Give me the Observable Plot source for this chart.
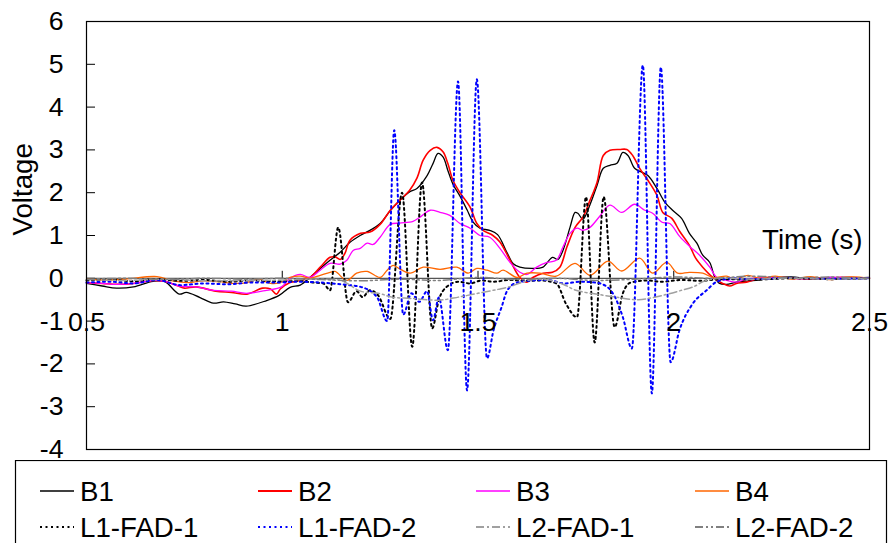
<!DOCTYPE html>
<html><head><meta charset="utf-8">
<script src="https://cdn.jsdelivr.net/npm/d3@7"></script>
<script src="https://cdn.jsdelivr.net/npm/@observablehq/plot@0.6"></script>
<style>
html,body{margin:0;padding:0;background:#fff;}
#wrap{position:relative;width:890px;height:543px;overflow:hidden;font-family:"Liberation Sans",Arial,sans-serif;}
#chart{position:absolute;left:0;top:0;}
#legend{position:absolute;left:0;top:460px;}
</style></head>
<body><div id="wrap"><div id="chart"></div><svg id="legend" width="890" height="83"></svg></div>
<script>
const xTicks = [0.5, 1, 1.5, 2, 2.5];
const yTicks = [-4, -3, -2, -1, 0, 1, 2, 3, 4, 5, 6];
const seriesNames = ["B1","B2","B3","B4","L1-FAD-1","L1-FAD-2","L2-FAD-1","L2-FAD-2"];

const B1 = [[0.5,-0.12],[0.54,-0.18],[0.577,-0.23],[0.62,-0.2],[0.67,-0.07],[0.7,-0.08],[0.737,-0.37],[0.755,-0.33],[0.79,-0.45],[0.824,-0.58],[0.85,-0.55],[0.88,-0.6],[0.908,-0.65],[0.96,-0.52],[0.992,-0.4],[1.02,-0.21],[1.046,-0.16],[1.071,0.02],[1.097,0.23],[1.122,0.42],[1.148,0.61],[1.173,0.84],[1.199,1.0],[1.224,1.12],[1.25,1.28],[1.276,1.58],[1.3,1.82],[1.325,2.02],[1.344,2.1],[1.37,2.4],[1.385,2.68],[1.398,2.92],[1.411,2.83],[1.423,2.52],[1.436,2.2],[1.454,1.92],[1.472,1.6],[1.487,1.32],[1.505,1.17],[1.53,1.12],[1.55,1.02],[1.574,0.6],[1.59,0.34],[1.607,0.26],[1.64,0.23],[1.666,0.26],[1.69,0.49],[1.704,0.44],[1.717,0.65],[1.735,1.19],[1.748,1.54],[1.755,1.52],[1.768,1.38],[1.786,1.72],[1.804,2.17],[1.82,2.57],[1.837,2.64],[1.855,2.69],[1.87,2.94],[1.883,2.87],[1.9,2.57],[1.918,2.48],[1.934,2.4],[1.957,2.1],[1.977,1.78],[1.997,1.59],[2.02,1.4],[2.04,1.05],[2.059,0.82],[2.074,0.54],[2.092,0.37],[2.105,0.02],[2.117,-0.12],[2.135,-0.14],[2.16,-0.09],[2.21,-0.05],[2.25,0.0],[2.3,0.03],[2.35,-0.01],[2.4,0.02],[2.45,0.0],[2.5,0.02]];
const B2 = [[0.5,-0.1],[0.54,-0.12],[0.58,-0.14],[0.62,-0.12],[0.67,-0.05],[0.7,-0.07],[0.735,-0.18],[0.75,-0.23],[0.78,-0.2],[0.83,-0.3],[0.87,-0.33],[0.91,-0.37],[0.95,-0.23],[0.97,-0.25],[0.985,-0.37],[0.995,-0.25],[1.02,-0.1],[1.046,-0.05],[1.071,0.02],[1.097,0.26],[1.122,0.49],[1.135,0.5],[1.148,0.44],[1.16,0.58],[1.173,0.89],[1.2,1.05],[1.224,1.08],[1.25,1.26],[1.276,1.59],[1.3,1.82],[1.325,2.05],[1.344,2.34],[1.36,2.76],[1.378,2.99],[1.395,3.06],[1.411,2.95],[1.423,2.68],[1.436,2.29],[1.454,2.0],[1.48,1.66],[1.497,1.28],[1.513,1.12],[1.538,1.0],[1.556,0.85],[1.582,0.42],[1.607,0.02],[1.625,-0.09],[1.64,0.02],[1.666,0.12],[1.69,0.14],[1.709,0.26],[1.727,0.73],[1.748,1.19],[1.768,1.43],[1.786,1.82],[1.804,2.24],[1.82,2.87],[1.837,2.99],[1.862,3.01],[1.88,3.01],[1.895,2.87],[1.913,2.57],[1.934,2.29],[1.957,1.94],[1.972,1.54],[1.995,1.4],[2.015,1.1],[2.04,0.77],[2.056,0.47],[2.074,0.26],[2.1,0.02],[2.125,-0.12],[2.143,-0.18],[2.16,-0.12],[2.186,-0.09],[2.22,0.0],[2.28,0.02],[2.35,-0.02],[2.42,0.02],[2.5,0.0]];
const B3 = [[0.5,-0.1],[0.54,-0.12],[0.58,-0.14],[0.62,-0.12],[0.67,-0.05],[0.7,-0.07],[0.737,-0.18],[0.78,-0.2],[0.824,-0.28],[0.87,-0.3],[0.908,-0.35],[0.96,-0.28],[0.998,-0.2],[1.02,0.0],[1.046,0.09],[1.071,0.02],[1.097,0.19],[1.122,0.35],[1.148,0.33],[1.165,0.42],[1.181,0.65],[1.199,0.7],[1.217,0.82],[1.232,0.79],[1.25,0.96],[1.276,1.26],[1.3,1.29],[1.334,1.33],[1.352,1.43],[1.378,1.59],[1.403,1.54],[1.428,1.47],[1.454,1.28],[1.48,1.17],[1.505,1.0],[1.53,0.96],[1.556,0.7],[1.582,0.37],[1.607,0.14],[1.625,0.09],[1.65,0.26],[1.676,0.37],[1.7,0.42],[1.717,0.73],[1.735,1.05],[1.753,1.17],[1.768,1.12],[1.786,1.19],[1.811,1.45],[1.837,1.71],[1.867,1.54],[1.9,1.73],[1.926,1.59],[1.946,1.52],[1.97,1.31],[1.99,1.28],[2.015,0.98],[2.04,0.75],[2.066,0.54],[2.092,0.26],[2.11,0.02],[2.135,-0.05],[2.16,-0.09],[2.186,-0.02],[2.25,0.02],[2.32,-0.01],[2.4,0.02],[2.5,0.01]];
const B4 = [[0.5,-0.02],[0.55,-0.04],[0.6,-0.02],[0.68,0.04],[0.72,-0.06],[0.76,-0.1],[0.8,-0.06],[0.84,-0.08],[0.88,-0.12],[0.91,-0.1],[0.94,-0.02],[0.97,-0.12],[0.995,-0.1],[1.02,0.02],[1.046,0.05],[1.071,0.0],[1.097,0.07],[1.122,0.14],[1.135,0.16],[1.165,-0.05],[1.19,0.12],[1.217,0.16],[1.25,0.02],[1.268,0.19],[1.283,0.3],[1.3,0.22],[1.327,0.12],[1.36,0.26],[1.403,0.21],[1.446,0.26],[1.475,0.12],[1.497,0.23],[1.523,0.19],[1.548,0.12],[1.564,0.19],[1.6,0.02],[1.625,0.12],[1.658,0.12],[1.7,0.05],[1.748,0.35],[1.786,0.07],[1.832,0.4],[1.867,0.17],[1.913,0.47],[1.946,0.12],[1.982,0.37],[2.01,0.12],[2.04,0.14],[2.074,0.12],[2.1,0.02],[2.135,0.05],[2.155,-0.02],[2.19,0.07],[2.22,0.0],[2.26,0.05],[2.3,-0.02],[2.35,0.04],[2.4,-0.03],[2.45,0.03],[2.5,0.0]];
const L1FAD1 = [[0.5,-0.05],[0.56,-0.03],[0.62,-0.07],[0.68,-0.02],[0.74,-0.06],[0.8,-0.04],[0.86,-0.08],[0.92,-0.05],[0.98,-0.07],[1.04,-0.06],[1.08,-0.1],[1.105,-0.12],[1.122,-0.28],[1.143,1.19],[1.168,-0.56],[1.19,-0.3],[1.205,-0.44],[1.224,-0.28],[1.245,-0.4],[1.276,-0.95],[1.306,2.0],[1.332,-1.6],[1.357,2.24],[1.383,-1.17],[1.4,-0.5],[1.42,-0.2],[1.45,-0.08],[1.48,-0.12],[1.51,-0.05],[1.54,-0.08],[1.58,-0.04],[1.62,-0.06],[1.66,-0.05],[1.7,-0.12],[1.725,-0.6],[1.753,-0.91],[1.776,1.9],[1.798,-1.5],[1.821,1.9],[1.849,-1.14],[1.87,-0.35],[1.89,-0.1],[1.93,-0.05],[1.97,-0.08],[2.02,-0.04],[2.07,-0.06],[2.12,-0.02],[2.2,-0.03],[2.3,0.0],[2.4,-0.02],[2.5,0.0]];
const L1FAD2 = [[0.5,-0.1],[0.56,-0.08],[0.62,-0.12],[0.68,-0.04],[0.74,-0.16],[0.8,-0.12],[0.86,-0.14],[0.92,-0.1],[0.98,-0.1],[1.04,-0.08],[1.1,-0.1],[1.16,-0.15],[1.2,-0.2],[1.242,-0.44],[1.268,-1.0],[1.286,3.46],[1.309,-0.85],[1.33,-0.35],[1.35,-0.55],[1.37,-0.3],[1.385,-0.98],[1.4,-0.45],[1.423,-1.68],[1.449,4.6],[1.472,-2.62],[1.497,4.65],[1.523,-1.87],[1.54,-1.2],[1.56,-0.68],[1.575,-0.28],[1.6,-0.1],[1.64,-0.05],[1.68,-0.04],[1.72,-0.12],[1.76,-0.08],[1.8,-0.1],[1.83,-0.2],[1.85,-0.44],[1.87,-0.91],[1.893,-1.64],[1.921,4.98],[1.944,-2.69],[1.967,4.93],[1.992,-1.96],[2.015,-1.2],[2.048,-0.6],[2.084,-0.28],[2.11,-0.08],[2.15,0.0],[2.2,-0.02],[2.3,0.01],[2.4,-0.01],[2.5,0.0]];
const L2FAD1 = [[0.5,-0.03],[0.6,-0.05],[0.7,-0.02],[0.8,-0.06],[0.9,-0.05],[1.0,-0.04],[1.1,-0.02],[1.15,-0.05],[1.2,-0.3],[1.25,-0.36],[1.28,-0.44],[1.33,-0.47],[1.4,-0.51],[1.45,-0.44],[1.5,-0.35],[1.55,-0.26],[1.58,-0.2],[1.61,-0.1],[1.64,-0.03],[1.68,-0.04],[1.72,-0.15],[1.75,-0.28],[1.81,-0.38],[1.86,-0.45],[1.91,-0.5],[1.98,-0.38],[2.02,-0.28],[2.05,-0.2],[2.08,-0.06],[2.12,0.0],[2.2,-0.02],[2.3,0.0],[2.4,-0.02],[2.5,0.0]];
const L2FAD2 = [[0.5,-0.02],[0.6,0.0],[0.7,-0.03],[0.8,0.0],[0.9,-0.02],[1.0,0.0],[1.1,-0.03],[1.2,-0.06],[1.3,-0.02],[1.4,-0.05],[1.5,0.02],[1.6,-0.03],[1.7,0.0],[1.8,-0.05],[1.9,-0.02],[2.0,0.03],[2.1,0.0],[2.2,0.05],[2.3,0.01],[2.4,0.03],[2.5,0.0]];

const seriesData = [B1, B2, B3, B4, L1FAD1, L1FAD2, L2FAD1, L2FAD2];
const styles = [
  {stroke:"#000000", strokeWidth:1.3, dash:null, curve:"catmull-rom"},
  {stroke:"#ff0000", strokeWidth:1.6, dash:null, curve:"catmull-rom"},
  {stroke:"#ff00ff", strokeWidth:1.3, dash:null, curve:"catmull-rom"},
  {stroke:"#ff6600", strokeWidth:1.3, dash:null, curve:"catmull-rom"},
  {stroke:"#000000", strokeWidth:2, dash:"2,3.5", curve:"monotone-x"},
  {stroke:"#0000ff", strokeWidth:2, dash:"2,3.5", curve:"monotone-x"},
  {stroke:"#a0a0a0", strokeWidth:1.5, dash:"8,3,2,3", curve:"catmull-rom"},
  {stroke:"#808080", strokeWidth:1.5, dash:"8,3,2,3,2,3", curve:"catmull-rom"}
];

const W = 890, H = 460, mt = 21, mb = 11, ml = 86, mr = 21;
const innerH = H - mt - mb;
const zeroOffset = innerH * 6 / 10;
const FS = 26.7;

const lineMarks = seriesData.map((s, i) => Plot.line(s, {
  x: d => d[0], y: d => d[1],
  stroke: styles[i].stroke, strokeWidth: styles[i].strokeWidth,
  strokeDasharray: styles[i].dash, curve: styles[i].curve
}));

const chart = Plot.plot({
  width: W, height: H,
  marginTop: mt, marginBottom: mb, marginLeft: ml, marginRight: mr,
  style: {fontFamily: '"Liberation Sans", Arial, sans-serif', background: "#fff", overflow: "visible"},
  x: {domain: [0.5, 2.5]},
  y: {domain: [-4, 6]},
  marks: [
    Plot.ruleY([0], {stroke: "#555", strokeWidth: 1.2}),
    Plot.axisY(yTicks, {tickSize: 9, dx: 9, tickFormat: () => "", label: null, stroke: "#000"}),
    Plot.axisY(yTicks, {tickSize: 0, tickPadding: 23, tickFormat: d => String(d), label: null, fontSize: FS, fill: "#000"}),
    Plot.axisX(xTicks, {anchor: "top", tickSize: 8, dy: zeroOffset, tickFormat: () => "", label: null, stroke: "#000"}),
    ...lineMarks,
    Plot.text(xTicks, {x: d => d, y: 0, dy: 44, text: d => String(d), fontSize: FS, fill: "#000"}),
    Plot.text(["Time (s)"], {x: 2.5, y: 0, dx: -7, dy: -38, text: d => d, textAnchor: "end", fontSize: FS + 1, fill: "#000"}),
    Plot.text(["Voltage"], {frameAnchor: "left", dx: -63, rotate: -90, text: d => d, fontSize: FS + 1, fill: "#000"}),
    Plot.frame({stroke: "#000", strokeWidth: 1.2})
  ]
});
document.getElementById("chart").appendChild(chart);

// Legend
const leg = d3.select("#legend");
leg.append("rect").attr("x", 15.5).attr("y", 0.5).attr("width", 871).attr("height", 120)
  .attr("fill", "#fff").attr("stroke", "#000").attr("stroke-width", 1.2);
const colX = [40, 258, 476, 695];
const rowY = [31, 67];
seriesNames.forEach((name, i) => {
  const cx = colX[i % 4], cy = rowY[Math.floor(i / 4)];
  const st = styles[i];
  leg.append("line").attr("x1", cx).attr("x2", cx + 34).attr("y1", cy).attr("y2", cy)
    .attr("stroke", st.stroke).attr("stroke-width", Math.min(st.strokeWidth + 0.3, 2.2))
    .attr("stroke-dasharray", st.dash || null);
  leg.append("text").attr("x", cx + 40).attr("y", cy).attr("dy", "0.35em")
    .attr("font-family", '"Liberation Sans", Arial, sans-serif').attr("font-size", FS + 1)
    .attr("fill", "#000").text(name);
});
</script></body></html>
